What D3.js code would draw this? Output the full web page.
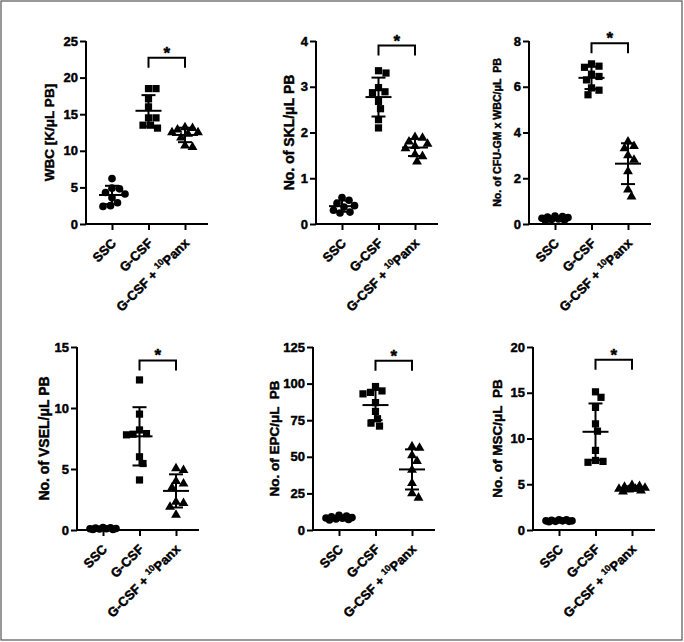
<!DOCTYPE html>
<html><head><meta charset="utf-8">
<script src="https://cdn.jsdelivr.net/npm/d3@7"></script>
<style>
body{margin:0;background:#fff}
svg text{font-family:"Liberation Sans",Arial,sans-serif !important;font-weight:700 !important;fill:#000;stroke:#000;stroke-width:0.45px}
</style>
</head><body>
<svg id="c" width="684" height="642"></svg>
<script>
// ---- DATA ----
const groups = ["SSC", "G-CSF", "G-CSF + 10Panx"];

const wbcSSC  = [6.2, 4.9, 4.8, 4.3, 4.1, 3.6, 2.9, 2.5, 2.4];
const wbcGCSF = [18.5, 18.5, 17.1, 16.0, 14.5, 14.5, 13.5, 13.5, 13.1];
const wbcPanx = [13.2, 13.1, 12.9, 12.5, 12.5, 12.3, 11.8, 10.7, 10.5];

const sklSSC  = [0.58, 0.52, 0.45, 0.40, 0.37, 0.30, 0.26, 0.24];
const sklGCSF = [3.35, 3.3, 2.98, 2.89, 2.87, 2.68, 2.52, 2.28, 2.1];
const sklPanx = [1.90, 1.88, 1.80, 1.75, 1.70, 1.65, 1.52, 1.48, 1.36];

const cfuSSC  = [0.35, 0.32, 0.30, 0.28, 0.25, 0.22, 0.20, 0.18, 0.15];
const cfuGCSF = [7.0, 6.9, 6.85, 6.55, 6.45, 6.3, 5.95, 5.85, 5.65];
const cfuPanx = [3.6, 3.4, 3.3, 3.0, 2.8, 2.3, 1.5, 1.2];

const vselSSC  = [0.2, 0.18, 0.15, 0.12, 0.1, 0.1, 0.08, 0.05, 0.05];
const vselGCSF = [12.3, 9.5, 8.2, 7.9, 7.85, 7.8, 6.0, 5.45, 4.1];
const vselPanx = [5.05, 4.9, 4.0, 3.8, 3.46, 2.3, 2.2, 1.9, 1.23];

const epcSSC  = [10, 9.5, 9, 8.5, 8.2, 8, 7.5, 7.2, 6.8];
const epcGCSF = [98, 95, 94, 93, 87, 81, 76, 73, 71];
const epcPanx = [57, 56, 51, 47, 41, 32, 25, 22];

const mscSSC  = [1.1, 1.1, 1.05, 1.0, 1.0, 0.95, 0.95, 0.9, 1.0];
const mscGCSF = [15.1, 14.5, 13.4, 11.6, 10.8, 8.7, 7.6, 7.5, 7.4];
const mscPanx = [4.9, 4.8, 4.7, 4.6, 4.5, 4.5, 4.4, 4.3, 4.2];

const yTitles = ["WBC [K/\u03bcL PB]", "No. of SKL/\u03bcL PB", "No. of CFU-GM x WBC/\u03bcL  PB",
                 "No. of VSEL/\u03bcL PB", "No. of EPC/\u03bcL  PB", "No. of MSC/\u03bcL  PB"];
const yMax  = [25, 4, 8, 15, 125, 20];
const yStep = [5, 1, 2, 5, 25, 5];
const bracketLevel = [22.7, 3.9, 7.9, 13.9, 115.6, 18.6];

const panelData = [
  [wbcSSC, wbcGCSF, wbcPanx],
  [sklSSC, sklGCSF, sklPanx],
  [cfuSSC, cfuGCSF, cfuPanx],
  [vselSSC, vselGCSF, vselPanx],
  [epcSSC, epcGCSF, epcPanx],
  [mscSSC, mscGCSF, mscPanx]
];

// ---- LAYOUT ----
const layout = [
  {ax: 86,  top: 41,  bot: 224, tx: 49,  fs: 13.5},
  {ax: 316, top: 41,  bot: 224, tx: 289, fs: 14},
  {ax: 529, top: 41,  bot: 224, tx: 497, fs: 10.6},
  {ax: 77,  top: 347, bot: 530, tx: 44,  fs: 14},
  {ax: 313, top: 347, bot: 530, tx: 274, fs: 13.5},
  {ax: 533, top: 347, bot: 530, tx: 497, fs: 13.5}
];

const svg = d3.select("#c");
svg.append("rect").attr("x", 1).attr("y", 1).attr("width", 681).attr("height", 639)
  .attr("fill", "none").attr("stroke", "#555").attr("stroke-width", 1.2);

const symbols = [d3.symbolCircle, d3.symbolSquare, d3.symbolTriangle];
const symSizes = [46, 52, 42];

function swarm(vals, y, D, maxW) {
  const pts = vals.map((v, i) => ({v, py: y(v), i})).sort((a, b) => a.py - b.py);
  const placed = [];
  const grid = d3.range(-maxW, maxW + 0.01, 0.5).sort((a, b) => Math.abs(a) - Math.abs(b) || b - a);
  pts.forEach(p => {
    let best = null, bestScore = -1;
    for (const c of grid) {
      let md = Infinity;
      for (const q of placed) {
        const dx = q.dx - c, dy = q.py - p.py;
        md = Math.min(md, Math.sqrt(dx * dx + dy * dy));
      }
      if (md >= D) { best = c; bestScore = Infinity; break; }
      if (md > bestScore + 0.01) { bestScore = md; best = c; }
    }
    p.dx = best;
    placed.push(p);
  });
  return pts;
}

const fmt = d3.format("~g");

panelData.forEach((series, i) => {
  const L = layout[i];
  const g = svg.append("g");
  const y = d3.scaleLinear().domain([0, yMax[i]]).range([L.bot, L.top]);
  const x = d3.scalePoint().domain(groups).range([L.ax + 26, L.ax + 99]);

  // y axis
  const ya = g.append("g").attr("transform", `translate(${L.ax},0)`)
    .call(d3.axisLeft(y).tickValues(d3.range(0, yMax[i] + 1e-9, yStep[i])).tickFormat(fmt)
      .tickSize(6).tickSizeOuter(0).tickPadding(2));
  ya.attr("font-family", null).attr("font-size", null);
  ya.selectAll("text").style("font-size", "13px");
  ya.select(".domain").attr("stroke-width", 2).attr("d", `M0,${L.bot + 1}V${L.top}`);
  ya.selectAll(".tick line").attr("stroke-width", 2);

  // x axis
  const xa = g.append("g").attr("transform", `translate(0,${L.bot})`)
    .call(d3.axisBottom(x).tickSize(6).tickSizeOuter(0).tickFormat(""));
  xa.select(".domain").remove();
  xa.selectAll(".tick line").attr("stroke-width", 2);
  xa.append("line").attr("x1", L.ax - 1).attr("x2", L.ax + 122).attr("stroke", "#000").attr("stroke-width", 2);

  groups.forEach((name, gi) => {
    const t = g.append("text").attr("text-anchor", "end")
      .attr("transform", `translate(${x(name) + 5},${L.bot + 20}) rotate(-45)`)
      .style("font-size", "13px");
    if (gi === 2) {
      t.append("tspan").text("G-CSF + ");
      t.append("tspan").attr("dy", -5).style("font-size", "9px").style("stroke-width", "0.3px").text("10");
      t.append("tspan").attr("dy", 5).text("Panx");
    } else {
      t.text(name);
    }
  });

  // y title
  g.append("text").attr("text-anchor", "middle")
    .attr("transform", `translate(${L.tx},${(L.top + L.bot) / 2}) rotate(-90)`)
    .attr("dy", "0.35em")
    .style("font-size", L.fs + "px").style("white-space", "pre")
    .text(yTitles[i]);

  // points + mean/SD
  series.forEach((vals, gi) => {
    const cx = x(groups[gi]);
    const pts = swarm(vals, y, 7.5, 13);
    g.selectAll(null).data(pts).join("path")
      .attr("d", d3.symbol().type(symbols[gi]).size(symSizes[gi]))
      .attr("transform", d => `translate(${cx + d.dx},${d.py})`)
      .attr("fill", "#000");
    const m = d3.mean(vals), sd = d3.deviation(vals);
    const eb = g.append("g").attr("stroke", "#000").attr("stroke-width", 2).attr("fill", "none");
    eb.append("line").attr("x1", cx).attr("x2", cx).attr("y1", y(m + sd)).attr("y2", y(Math.max(0, m - sd)));
    eb.append("line").attr("x1", cx - 13).attr("x2", cx + 13).attr("y1", y(m)).attr("y2", y(m));
    eb.append("line").attr("x1", cx - 7).attr("x2", cx + 7).attr("y1", y(m + sd)).attr("y2", y(m + sd));
    if (m - sd > 0) eb.append("line").attr("x1", cx - 7).attr("x2", cx + 7).attr("y1", y(m - sd)).attr("y2", y(m - sd));
  });

  // significance bracket
  const by = y(bracketLevel[i]);
  const x1 = x(groups[1]), x2 = x(groups[2]);
  g.append("path").attr("d", `M${x1},${by + 10}V${by}H${x2}V${by + 10}`)
    .attr("fill", "none").attr("stroke", "#000").attr("stroke-width", 2);
  g.append("text").attr("x", (x1 + x2) / 2).attr("y", by + 1).attr("text-anchor", "middle")
    .style("font-size", "17px").text("*");
});
</script>
</body></html>
